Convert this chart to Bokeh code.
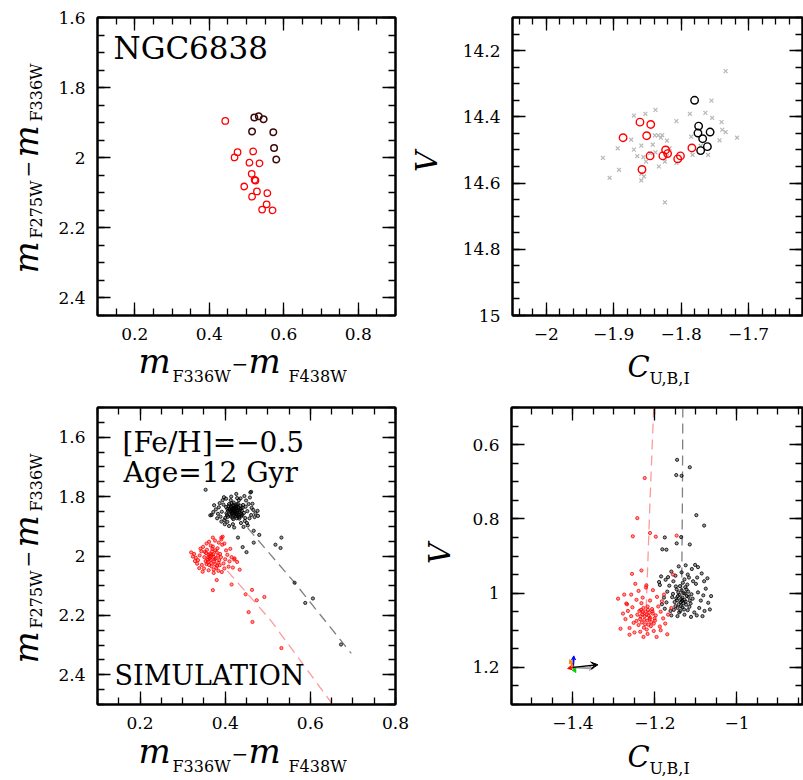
import numpy as np
from bokeh.plotting import figure
from bokeh.models import (Range1d, LinearAxis, FixedTicker, CustomJSTickFormatter,
                          Label, Arrow, VeeHead)
from bokeh.layouts import row, column
from bokeh.embed import file_html
from bokeh.resources import INLINE

FONT = "DejaVu Serif"

# ---------------- Top-left: NGC6838 observed two-colour diagram ----------------
tl_red_x = [0.443, 0.476, 0.468, 0.518, 0.508, 0.535, 0.514, 0.522, 0.524, 0.494,
            0.528, 0.515, 0.556, 0.554, 0.542, 0.570]
tl_red_y = [1.895, 1.984, 1.999, 1.982, 2.014, 2.016, 2.046, 2.063, 2.065, 2.082,
            2.096, 2.111, 2.101, 2.133, 2.148, 2.150]
tl_dark_x = [0.521, 0.533, 0.546, 0.515, 0.572, 0.574, 0.580]
tl_dark_y = [1.885, 1.882, 1.890, 1.925, 1.927, 1.972, 2.005]

# ---------------- Top-right: V vs C_U,B,I observed ----------------
tr_gray_x = [-1.916, -1.906, -1.892, -1.894, -1.874, -1.870, -1.870, -1.865, -1.859, -1.853,
             -1.838, -1.856, -1.852, -1.859, -1.859, -1.855, -1.842, -1.839, -1.834, -1.830,
             -1.838, -1.833, -1.821, -1.821, -1.824, -1.817, -1.824, -1.807, -1.807, -1.787,
             -1.785, -1.783, -1.764, -1.755, -1.754, -1.760, -1.740, -1.739, -1.734, -1.743,
             -1.734, -1.717, -1.771, -1.828, -1.846]
tr_gray_y = [14.524, 14.584, 14.560, 14.495, 14.469, 14.396, 14.499, 14.519, 14.487, 14.391,
             14.379, 14.522, 14.535, 14.572, 14.592, 14.580, 14.484, 14.456, 14.456, 14.463,
             14.507, 14.550, 14.472, 14.519, 14.535, 14.495, 14.658, 14.413, 14.539, 14.391,
             14.460, 14.515, 14.388, 14.351, 14.403, 14.515, 14.416, 14.439, 14.446, 14.471,
             14.262, 14.463, 14.488, 14.455, 14.510]
tr_red_x = [-1.861, -1.845, -1.886, -1.851, -1.846, -1.858, -1.823, -1.820, -1.827, -1.805,
            -1.801, -1.784]
tr_red_y = [14.416, 14.423, 14.463, 14.457, 14.518, 14.559, 14.500, 14.511, 14.518, 14.527,
            14.518, 14.494]
tr_black_x = [-1.780, -1.774, -1.775, -1.757, -1.768, -1.761, -1.771]
tr_black_y = [14.350, 14.428, 14.449, 14.446, 14.466, 14.490, 14.502]

# ---------------- Bottom-left: simulated two-colour diagram ----------------
bl_black = [
    (0.412, 1.838), (0.425, 1.851), (0.418, 1.829), (0.431, 1.846), (0.405, 1.842),
    (0.437, 1.858), (0.421, 1.862), (0.428, 1.833), (0.415, 1.851), (0.409, 1.825),
    (0.433, 1.869), (0.419, 1.844), (0.426, 1.840), (0.441, 1.838), (0.403, 1.856),
    (0.417, 1.871), (0.430, 1.824), (0.422, 1.849), (0.411, 1.861), (0.436, 1.831),
    (0.424, 1.866), (0.414, 1.834), (0.429, 1.855), (0.407, 1.848), (0.439, 1.848),
    (0.420, 1.820), (0.432, 1.861), (0.416, 1.858), (0.427, 1.873), (0.444, 1.855),
    (0.410, 1.843), (0.423, 1.836), (0.435, 1.843), (0.418, 1.854), (0.402, 1.835),
    (0.428, 1.847), (0.413, 1.867), (0.438, 1.866), (0.421, 1.831), (0.426, 1.859),
    (0.406, 1.868), (0.431, 1.836), (0.419, 1.876), (0.442, 1.828), (0.415, 1.822),
    (0.424, 1.845), (0.434, 1.852), (0.408, 1.832), (0.429, 1.866), (0.417, 1.840),
    (0.422, 1.857), (0.437, 1.840), (0.412, 1.850), (0.427, 1.826), (0.404, 1.862),
    (0.433, 1.874), (0.420, 1.839), (0.440, 1.862), (0.416, 1.846), (0.425, 1.834),
    (0.385, 1.836), (0.392, 1.851), (0.378, 1.843), (0.396, 1.827), (0.452, 1.849),
    (0.461, 1.862), (0.448, 1.834), (0.466, 1.845), (0.457, 1.873), (0.471, 1.856),
    (0.389, 1.868), (0.383, 1.858), (0.398, 1.879), (0.374, 1.829), (0.455, 1.825),
    (0.462, 1.838), (0.446, 1.882), (0.469, 1.869), (0.476, 1.848), (0.451, 1.889),
    (0.394, 1.812), (0.387, 1.822), (0.381, 1.873), (0.399, 1.893), (0.449, 1.813),
    (0.458, 1.803), (0.464, 1.824), (0.453, 1.897), (0.372, 1.852), (0.391, 1.884),
    (0.402, 1.807), (0.445, 1.798), (0.437, 1.889), (0.409, 1.899), (0.428, 1.805),
    (0.418, 1.893), (0.443, 1.902), (0.397, 1.802), (0.459, 1.786), (0.432, 1.812),
    (0.414, 1.800), (0.426, 1.791), (0.405, 1.885), (0.421, 1.904), (0.477, 1.865),
    (0.368, 1.862), (0.400, 1.872), (0.447, 1.872), (0.413, 1.812), (0.436, 1.806),
    (0.354, 1.777), (0.461, 1.784), (0.365, 1.863), (0.430, 1.938), (0.441, 1.970),
    (0.450, 1.987), (0.467, 1.955), (0.467, 1.915), (0.480, 1.929), (0.532, 1.938),
    (0.518, 1.962), (0.530, 1.973), (0.563, 2.090), (0.606, 2.143), (0.588, 2.158),
    (0.672, 2.298)]
bl_red = [
    (0.365, 2.001), (0.372, 1.994), (0.358, 2.012), (0.378, 2.008), (0.369, 1.985),
    (0.361, 1.996), (0.383, 1.999), (0.374, 2.018), (0.355, 1.990), (0.367, 2.024),
    (0.380, 1.987), (0.363, 2.009), (0.376, 2.028), (0.351, 2.004), (0.386, 2.014),
    (0.370, 1.976), (0.359, 2.021), (0.381, 2.033), (0.366, 2.013), (0.373, 2.003),
    (0.357, 1.979), (0.388, 1.993), (0.362, 2.030), (0.377, 1.981), (0.368, 2.035),
    (0.354, 2.017), (0.384, 2.022), (0.371, 1.968), (0.364, 1.992), (0.379, 2.040),
    (0.352, 1.986), (0.375, 2.011), (0.390, 2.004), (0.360, 2.004), (0.368, 1.997),
    (0.382, 1.974), (0.356, 2.027), (0.373, 2.046), (0.387, 2.031), (0.366, 1.965),
    (0.340, 1.998), (0.336, 2.014), (0.344, 1.984), (0.331, 2.006), (0.327, 1.993),
    (0.345, 2.030), (0.339, 2.041), (0.348, 1.969), (0.400, 2.011), (0.405, 1.996),
    (0.396, 2.025), (0.410, 2.018), (0.402, 1.981), (0.415, 2.004), (0.398, 2.042),
    (0.421, 2.012), (0.393, 1.962), (0.385, 1.955), (0.376, 1.948), (0.362, 1.952),
    (0.391, 1.944), (0.371, 1.938), (0.356, 1.958), (0.398, 1.958), (0.384, 2.050),
    (0.361, 2.048), (0.350, 2.042), (0.392, 2.054), (0.373, 2.057), (0.408, 2.036),
    (0.324, 2.002), (0.320, 1.988), (0.334, 2.026), (0.342, 1.975), (0.428, 2.020),
    (0.418, 2.039), (0.412, 1.976), (0.347, 2.053), (0.329, 2.017), (0.394, 1.935),
    (0.391, 1.938), (0.434, 2.046), (0.380, 2.081), (0.415, 2.096), (0.371, 2.115),
    (0.448, 2.129), (0.463, 2.114), (0.474, 2.149), (0.492, 2.138), (0.455, 2.189),
    (0.464, 2.222), (0.532, 2.310), (0.422, 2.008)]
bl_black_x = [p[0] for p in bl_black]
bl_black_y = [p[1] for p in bl_black]
bl_red_x = [p[0] for p in bl_red]
bl_red_y = [p[1] for p in bl_red]
bl_gray_line_x = [0.453, 0.563, 0.696]
bl_gray_line_y = [1.906, 2.090, 2.328]
bl_red_line_x = [0.405, 0.506, 0.655]
bl_red_line_y = [2.050, 2.215, 2.505]

# ---------------- Bottom-right: simulated V vs C_U,B,I ----------------
br_black = [
    (-1.140, 1.005), (-1.128, 1.018), (-1.135, 0.992), (-1.122, 1.008), (-1.148, 1.014),
    (-1.131, 1.027), (-1.143, 0.998), (-1.119, 0.996), (-1.137, 1.035), (-1.126, 0.984),
    (-1.152, 1.024), (-1.133, 1.012), (-1.145, 1.040), (-1.115, 1.020), (-1.124, 1.031),
    (-1.139, 0.981), (-1.156, 1.002), (-1.129, 1.044), (-1.118, 1.010), (-1.147, 0.990),
    (-1.134, 1.021), (-1.121, 0.977), (-1.142, 1.030), (-1.111, 1.003), (-1.138, 1.048),
    (-1.127, 1.001), (-1.150, 1.035), (-1.132, 0.972), (-1.116, 1.037), (-1.144, 1.008),
    (-1.125, 1.023), (-1.136, 1.016), (-1.158, 1.011), (-1.123, 0.990), (-1.141, 1.052),
    (-1.130, 1.000), (-1.113, 1.028), (-1.149, 0.982), (-1.120, 1.046), (-1.137, 1.024),
    (-1.146, 1.019), (-1.128, 0.963), (-1.108, 1.015), (-1.154, 1.045), (-1.133, 1.038),
    (-1.170, 0.996), (-1.178, 1.012), (-1.165, 0.980), (-1.183, 1.030), (-1.174, 0.964),
    (-1.188, 0.978), (-1.162, 1.048), (-1.176, 1.042), (-1.095, 0.998), (-1.088, 1.020),
    (-1.100, 0.975), (-1.082, 1.006), (-1.092, 1.040), (-1.076, 0.988), (-1.104, 1.052),
    (-1.070, 1.026), (-1.097, 0.958), (-1.086, 0.947), (-1.063, 1.008), (-1.079, 1.048),
    (-1.150, 0.953), (-1.160, 0.942), (-1.135, 0.944), (-1.120, 0.950), (-1.110, 0.935),
    (-1.142, 0.928), (-1.125, 0.925), (-1.102, 0.924), (-1.168, 0.957), (-1.095, 0.930),
    (-1.145, 1.062), (-1.128, 1.058), (-1.112, 1.064), (-1.160, 1.060), (-1.098, 1.060),
    (-1.084, 1.062), (-1.172, 1.025), (-1.066, 1.044), (-1.190, 0.970), (-1.185, 0.955),
    (-1.155, 0.968), (-1.107, 0.968), (-1.117, 0.958), (-1.080, 0.968), (-1.072, 0.960),
    (-1.146, 0.641), (-1.115, 0.661), (-1.148, 0.682), (-1.135, 0.684), (-1.099, 0.790),
    (-1.080, 0.818), (-1.176, 0.850), (-1.136, 0.849), (-1.147, 0.866), (-1.115, 0.869),
    (-1.182, 0.882), (-1.172, 0.883)]
br_red = [
    (-1.221, 1.058), (-1.212, 1.066), (-1.230, 1.051), (-1.205, 1.055), (-1.226, 1.072),
    (-1.217, 1.045), (-1.235, 1.063), (-1.209, 1.078), (-1.224, 1.084), (-1.214, 1.052),
    (-1.238, 1.048), (-1.201, 1.068), (-1.228, 1.040), (-1.219, 1.074), (-1.207, 1.043),
    (-1.232, 1.079), (-1.215, 1.061), (-1.243, 1.058), (-1.203, 1.082), (-1.223, 1.050),
    (-1.210, 1.089), (-1.236, 1.070), (-1.218, 1.036), (-1.227, 1.093), (-1.198, 1.060),
    (-1.240, 1.086), (-1.213, 1.070), (-1.225, 1.062), (-1.206, 1.049), (-1.231, 1.057),
    (-1.220, 1.098), (-1.245, 1.075), (-1.200, 1.074), (-1.216, 1.085), (-1.234, 1.045),
    (-1.258, 1.062), (-1.266, 1.048), (-1.252, 1.080), (-1.272, 1.070), (-1.262, 1.094),
    (-1.278, 1.055), (-1.255, 1.038), (-1.284, 1.096), (-1.290, 1.015), (-1.270, 1.028),
    (-1.186, 1.050), (-1.180, 1.068), (-1.192, 1.036), (-1.175, 1.082), (-1.188, 1.090),
    (-1.170, 1.111), (-1.183, 1.022), (-1.195, 1.010), (-1.178, 1.004), (-1.168, 1.058),
    (-1.250, 1.106), (-1.236, 1.104), (-1.218, 1.110), (-1.203, 1.102), (-1.262, 1.112),
    (-1.245, 1.018), (-1.230, 1.012), (-1.212, 1.020), (-1.258, 1.004), (-1.240, 0.994),
    (-1.222, 0.985), (-1.205, 0.992), (-1.248, 0.975), (-1.233, 1.027), (-1.275, 1.004),
    (-1.196, 1.118), (-1.228, 1.118), (-1.268, 1.030), (-1.160, 1.040), (-1.186, 1.100),
    (-1.225, 0.690), (-1.243, 0.798), (-1.212, 0.838), (-1.254, 0.847), (-1.198, 0.848),
    (-1.147, 0.845), (-1.233, 0.939), (-1.256, 0.948), (-1.156, 0.950), (-1.221, 0.979)]
br_black_x = [p[0] for p in br_black]
br_black_y = [p[1] for p in br_black]
br_red_x = [p[0] for p in br_red]
br_red_y = [p[1] for p in br_red]
br_gray_line_x = [-1.132, -1.133, -1.135]
br_gray_line_y = [0.50, 0.75, 1.02]
br_red_line_x = [-1.203, -1.212, -1.222]
br_red_line_y = [0.50, 0.75, 1.06]

# reddening / error vectors
vec_x0, vec_y0 = -1.400, 1.200
vec_x1 = [-1.350, -1.398, -1.408, -1.413, -1.393, -1.339]
vec_y1 = [1.203, 1.169, 1.179, 1.203, 1.214, 1.193]
vec_col = ["#a0a0a0", "#0000ff", "#ff8c00", "#ff0000", "#00cc00", "black"]

# ---------------- helpers ----------------
fmt = CustomJSTickFormatter(code="""
    const a = Math.abs(tick);
    const s = parseFloat(a.toFixed(3)).toString();
    return (tick < -1e-9 ? "\u2212" : "") + s;
""")
blank = CustomJSTickFormatter(code='return "";')

BASE = 0.37   # alphabetic-baseline correction (fraction of font size)
MID = 0.345   # middle of the text box above the baseline (fraction of font size)


def ticker(major, lo, hi, step):
    minor = [round(v, 4) for v in np.arange(lo, hi + step / 2, step)]
    return FixedTicker(ticks=major, minor_ticks=minor)


def make_fig(width, height, left, right, top, bottom, xr, yr, xt, yt):
    p = figure(width=width, height=height, x_range=Range1d(*xr), y_range=Range1d(*yr),
               output_backend="svg", toolbar_location=None,
               x_axis_location=None, y_axis_location=None,
               min_border_left=left, min_border_right=right,
               min_border_top=top, min_border_bottom=bottom)
    p.grid.visible = False
    p.outline_line_color = "black"
    p.outline_line_width = 2
    for loc, tk, show in [("below", xt, True), ("above", xt, False),
                          ("left", yt, True), ("right", yt, False)]:
        ax = LinearAxis(ticker=tk, formatter=fmt if show else blank,
                        axis_line_width=2, axis_line_color="black",
                        major_tick_in=13, major_tick_out=0,
                        minor_tick_in=7, minor_tick_out=0,
                        major_tick_line_width=1.3, minor_tick_line_width=1.3,
                        major_tick_line_color="black", minor_tick_line_color="black",
                        major_label_text_font=FONT,
                        major_label_text_color="black",
                        major_label_text_font_size="17px",
                        major_label_standoff=12 if show else 0)
        p.add_layout(ax, loc)
    return p


class Strip:
    """a text-only figure covering page rectangle (left, top, w, h);
    its data coordinates are page pixels (x) and minus page pixels (y)"""

    def __init__(self, left, top, w, h, btop=0, bbottom=0, margin=None):
        y_hi = -(top + btop)
        y_lo = -(top + h - bbottom)
        s = figure(width=w, height=h, x_range=Range1d(left, left + w),
                   y_range=Range1d(y_lo, y_hi),
                   output_backend="svg", toolbar_location=None,
                   x_axis_location=None, y_axis_location=None,
                   min_border_left=0, min_border_right=0,
                   min_border_top=btop, min_border_bottom=bbottom)
        s.grid.visible = False
        s.outline_line_color = None
        s.background_fill_color = None
        s.border_fill_color = None
        if margin is not None:
            s.margin = margin
        self.fig = s

    def htext(self, px, py, text, size, italic=False):
        """px = left edge, py = alphabetic baseline (page pixels)"""
        self.fig.add_layout(Label(
            x=px, y=-(py - BASE * size), text=text,
            text_font=FONT, text_font_size=f"{size}px",
            text_font_style="italic" if italic else "normal", text_color="black",
            text_align="left", text_baseline="alphabetic"))

    def vtext(self, bx, y0, length, text, size, italic=False):
        """rotated text reading upwards: bx = baseline x, y0 = page y where it starts"""
        self.fig.add_layout(Label(
            x=bx - MID * size, y=-(y0 - length / 2), text=text,
            text_font=FONT, text_font_size=f"{size}px",
            text_font_style="italic" if italic else "normal", text_color="black",
            angle=90, angle_units="deg", text_align="center", text_baseline="middle"))


def inplot(p, sx, sy, text, size):
    p.add_layout(Label(x=sx, y=sy + BASE * size, x_units="screen", y_units="screen",
                       text=text, text_font=FONT, text_font_size=f"{size}px",
                       text_color="black", text_align="left", text_baseline="alphabetic"))


LW = 409   # left column width
RW = 394   # right column width


def two_colour_panel(p, T, bb):
    yl = Strip(0, T, 50, 350, btop=17, bbottom=bb)
    yl.vtext(37, T + 273, 32, "m", 34, True)
    yl.vtext(42, T + 238, 58, "F275W", 16)
    yl.vtext(33.5, T + 177, 17, "\u2212", 20)
    yl.vtext(37, T + 157, 32, "m", 34, True)
    yl.vtext(42, T + 121, 58, "F336W", 16)
    xl = Strip(0, T + 330, LW, 60, margin=(-20, 0, 0, 0))
    xl.htext(138, T + 373, "m", 34, True)
    xl.htext(172, T + 382, "F336W", 16)
    xl.htext(231, T + 370, "\u2212", 20)
    xl.htext(248, T + 373, "m", 34, True)
    xl.htext(288, T + 382, "F438W", 16)
    return column(row(yl.fig, p), xl.fig)


def cubi_panel(p, T, bb, v_top, vbx, cbase):
    yl = Strip(LW, T, 50, 350, btop=17, bbottom=bb)
    yl.vtext(vbx, v_top + 24, 24, "V", 29, True)
    xl = Strip(LW, T + 330, RW, 60, margin=(-20, 0, 0, 0))
    xl.htext(627, cbase, "C", 29, True)
    xl.htext(649, cbase + 7, "U,B,I", 16)
    return column(row(yl.fig, p), xl.fig)


# ---------------- panels ----------------
p1 = make_fig(359, 350, 47, 14, 17, 35, (0.1, 0.9), (2.45, 1.6),
              ticker([0.2, 0.4, 0.6, 0.8], 0.1, 0.9, 0.05),
              ticker([1.6, 1.8, 2.0, 2.2, 2.4], 1.6, 2.45, 0.05))
p1.scatter(tl_red_x, tl_red_y, marker="circle", size=6.5, fill_color=None,
           line_color="#ff0000", line_width=1.3)
p1.scatter(tl_dark_x, tl_dark_y, marker="circle", size=6.5, fill_color=None,
           line_color="#3d0808", line_width=1.5)
inplot(p1, 16, 256, "NGC6838", 31)

p2 = make_fig(344, 350, 52, 1, 17, 35, (-2.05, -1.62), (15.0, 14.1),
              ticker([-2.0, -1.9, -1.8, -1.7], -2.04, -1.62, 0.02),
              ticker([14.2, 14.4, 14.6, 14.8, 15.0], 14.1, 15.0, 0.05))
p2.scatter(tr_gray_x, tr_gray_y, marker="x", size=5.5, line_color="#b8b8b8", line_width=1.2)
p2.scatter(tr_red_x, tr_red_y, marker="circle", size=7.5, fill_color=None,
           line_color="#ff0000", line_width=1.4)
p2.scatter(tr_black_x, tr_black_y, marker="circle", size=7.5, fill_color=None,
           line_color="black", line_width=1.4)

p3 = make_fig(359, 350, 47, 14, 17, 36, (0.1, 0.8), (2.5, 1.5),
              ticker([0.2, 0.4, 0.6, 0.8], 0.1, 0.8, 0.05),
              ticker([1.6, 1.8, 2.0, 2.2, 2.4], 1.5, 2.5, 0.05))
p3.line(bl_gray_line_x, bl_gray_line_y, line_color="#808080", line_width=1.3, line_dash="10 6")
p3.line(bl_red_line_x, bl_red_line_y, line_color="#ff9a9a", line_width=1.3, line_dash="10 6")
p3.scatter(bl_black_x, bl_black_y, marker="circle", size=3.2, fill_color="black",
           fill_alpha=0.4, line_color="black", line_width=0.8)
p3.scatter(bl_red_x, bl_red_y, marker="circle", size=3.2, fill_color="#ff0000",
           fill_alpha=0.4, line_color="#ff0000", line_width=0.8)
inplot(p3, 25, 252, "[Fe/H]=\u22120.5", 28)
inplot(p3, 26, 222, "Age=12 Gyr", 28)
inplot(p3, 17, 19, "SIMULATION", 27)

p4 = make_fig(344, 350, 52, 1, 17, 36, (-1.55, -0.84), (1.3, 0.5),
              ticker([-1.4, -1.2, -1.0], -1.55, -0.85, 0.05),
              ticker([0.6, 0.8, 1.0, 1.2], 0.5, 1.3, 0.05))
p4.line(br_gray_line_x, br_gray_line_y, line_color="#808080", line_width=1.3, line_dash="10 6")
p4.line(br_red_line_x, br_red_line_y, line_color="#ff9a9a", line_width=1.3, line_dash="10 6")
p4.scatter(br_black_x, br_black_y, marker="circle", size=3.2, fill_color="black",
           fill_alpha=0.4, line_color="black", line_width=0.8)
p4.scatter(br_red_x, br_red_y, marker="circle", size=3.2, fill_color="#ff0000",
           fill_alpha=0.4, line_color="#ff0000", line_width=0.8)
for x1, y1, c in zip(vec_x1, vec_y1, vec_col):
    big = c == "black"
    p4.add_layout(Arrow(end=VeeHead(size=7 if big else 4, line_color=c, fill_color=c, line_width=1),
                        x_start=vec_x0, y_start=vec_y0, x_end=x1, y_end=y1,
                        line_color=c, line_width=1.5 if big else 2))

tl = two_colour_panel(p1, 0, 35)
tr = cubi_panel(p2, 0, 35, 149, 437, 377)
bl = two_colour_panel(p3, 390, 36)
br = cubi_panel(p4, 390, 36, 541, 450, 767)

layout = column(row(tl, tr), row(bl, br))
open("out.html", "w").write(file_html(layout, INLINE))
